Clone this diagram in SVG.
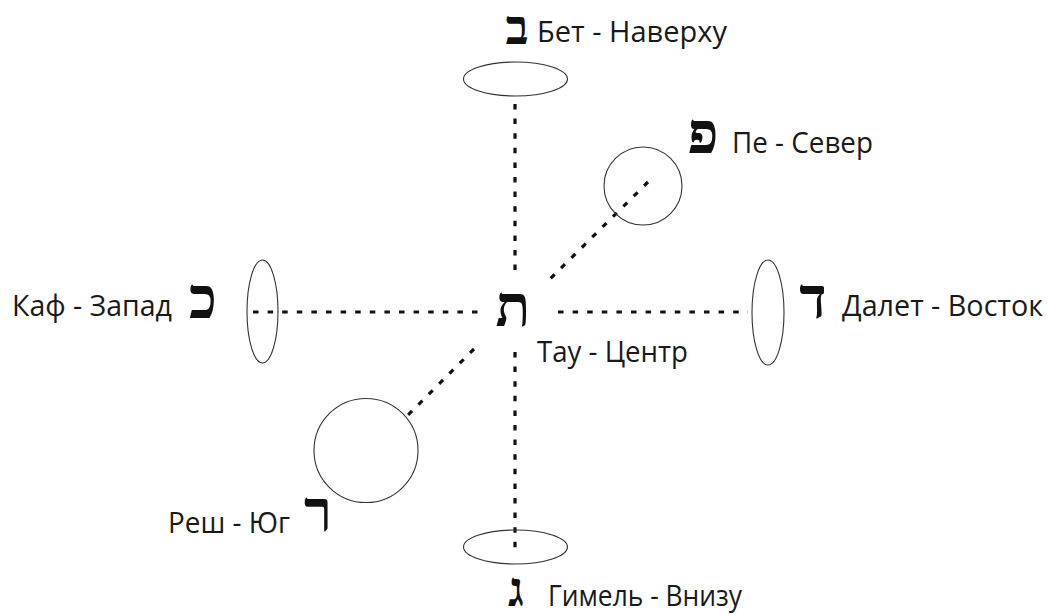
<svg xmlns="http://www.w3.org/2000/svg" width="1049" height="614" viewBox="0 0 1049 614">
<style>
.shape{fill:none;stroke:#333;stroke-width:1.1}
.dash{fill:none;stroke:#111;stroke-width:3.2;stroke-dasharray:5.5 9.1}
.lbl{font-family:"Open Sans","Noto Sans",sans-serif;font-size:29px;fill:#1a1a1a}
.heb{font-family:"Liberation Serif","DejaVu Serif",serif;font-weight:bold;font-size:57px;fill:#111;text-anchor:middle}
</style>
<rect width="1049" height="614" fill="#fff"/>
<g id="connectors">
<line class="dash" x1="515" y1="104" x2="515" y2="272"/>
<line class="dash" x1="515" y1="352" x2="515" y2="550"/>
<line class="dash" x1="253" y1="312" x2="481" y2="312"/>
<line class="dash" x1="558" y1="312" x2="748" y2="312"/>
<line class="dash" x1="648" y1="182" x2="550" y2="279"/>
<line class="dash" x1="474" y1="349" x2="406" y2="417"/>
</g>
<g id="bet">
<ellipse class="shape" cx="515.5" cy="79" rx="52" ry="17"/>
<text class="heb" x="517" y="44" style="font-size:48px">ב</text>
<text class="lbl" x="537" y="42" textLength="190" lengthAdjust="spacingAndGlyphs">Бет - Наверху</text>
</g>
<g id="pe">
<circle class="shape" cx="643" cy="186" r="39"/>
<text class="heb" x="703" y="153">פ</text>
<text class="lbl" x="732" y="153" textLength="141" lengthAdjust="spacingAndGlyphs">Пе - Север</text>
</g>
<g id="kaf">
<ellipse class="shape" cx="262.5" cy="311.5" rx="15.5" ry="51.5"/>
<text class="heb" x="203" y="318">כ</text>
<text class="lbl" x="12" y="316" textLength="160" lengthAdjust="spacingAndGlyphs">Каф - Запад</text>
</g>
<g id="tav">
<text class="heb" x="513" y="326">ת</text>
<text class="lbl" x="537" y="362" textLength="151" lengthAdjust="spacingAndGlyphs">Тау - Центр</text>
</g>
<g id="dalet">
<ellipse class="shape" cx="768" cy="312.5" rx="16" ry="52.5"/>
<text class="heb" x="813" y="318">ד</text>
<text class="lbl" x="842" y="316" textLength="201" lengthAdjust="spacingAndGlyphs">Далет - Восток</text>
</g>
<g id="resh">
<circle class="shape" cx="366" cy="450.5" r="52"/>
<text class="heb" x="318" y="531">ר</text>
<text class="lbl" x="168" y="533" textLength="122" lengthAdjust="spacingAndGlyphs">Реш - Юг</text>
</g>
<g id="gimel">
<ellipse class="shape" cx="515.5" cy="547" rx="52" ry="17"/>
<text class="heb" x="516" y="606" style="font-size:48px">ג</text>
<text class="lbl" x="548" y="606" textLength="194" lengthAdjust="spacingAndGlyphs">Гимель - Внизу</text>
</g>
</svg>
